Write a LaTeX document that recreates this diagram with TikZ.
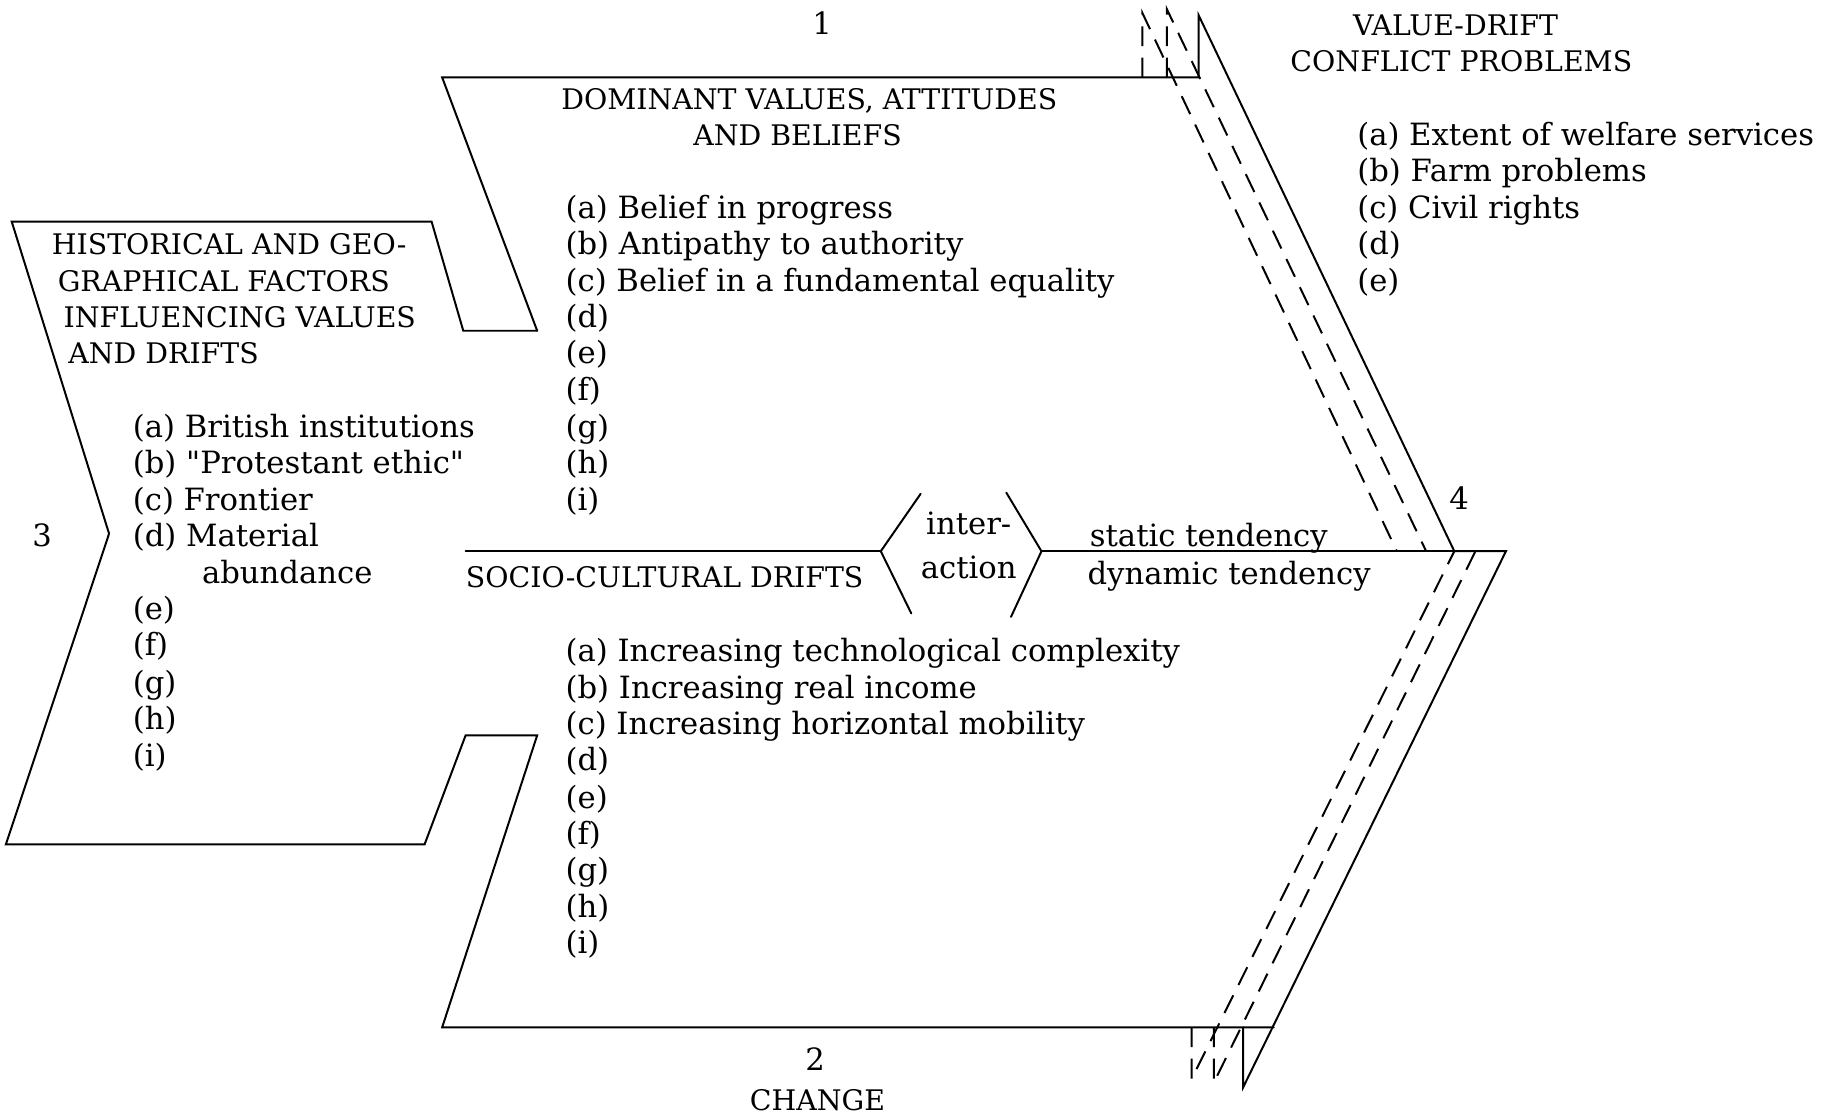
\documentclass[tikz,border=0pt]{standalone}
\usepackage{fontspec}
\setmainfont{DejaVu Serif}[Ligatures=TeXOff]
\usetikzlibrary{arrows.meta,positioning,calc}

\begin{document}
\begin{tikzpicture}[x=0.025cm, y=-0.025cm, >=Stealth,
	word/.style={draw=none, inner sep=0pt, anchor=west, text height=15pt, text depth=2pt, font=\fontsize{18.6}{22}\selectfont},
	cword/.style={word, anchor=center},
	head/.style={word, font=\fontsize{17.2}{22}\selectfont},
	chead/.style={head, anchor=center},
	frame/.style={line width=1.2pt, line join=miter, line cap=round},
	feedback/.style={line width=1.2pt, dash pattern=on 12pt off 7pt},
	bracket/.style={line width=1.2pt, line cap=round}
	]
	\useasboundingbox (0,0) rectangle (1568,953);

	% corners of the frame
	\coordinate (one) at (1022,13);
	\coordinate (four) at (1240,470);
	\coordinate (fourout) at (1284,470);
	\coordinate (two) at (1060,927);
	\coordinate (three) at (93,455);
	\coordinate (ileft) at (751,470);
	\coordinate (iright) at (888,470);

	\draw [frame] (458,282) -- (377,66) -- (1022,66) -- (one) -- (four) -- (fourout) -- (two) -- (1060,876);
	\draw [frame] (1086,876) -- (377,876) -- (458,627) -- (397,627) -- (362,720) -- (5,720) -- (three) -- (10,189) -- (368,189) -- (395,282) -- (458,282);
	\draw [frame] (397,470) -- (ileft);
	\draw [frame] (iright) -- (fourout);
	\draw [bracket] (785,421) -- (ileft) -- (777,523);
	\draw [bracket] (858,420) -- (iright) -- (862,526);

	\draw [feedback] (974,66) -- (974,11) -- (1191,470);
	\draw [feedback] (995,66) -- (995,8) -- (1216,470);
	\draw [feedback] (1016,876) -- (1016,920) -- (four);
	\draw [feedback] (1035,876) -- (1035,923) -- (1258,470);

	\node[cword](n1) at (701,20) {1};
	\node[cword](n2) at (695,904) {2};
	\node[cword](n3) at (36,457) {3};
	\node[cword](n4) at (1244,425) {4};

	\node[chead](vdrift) at (1241,21) {VALUE-DRIFT};
	\node[chead](vdrift2) at (1246,52) {CONFLICT PROBLEMS};
	\node[word](pa) at (1157,115) {(a) Extent of welfare services};
	\node[word](pb) at (1157,146) {(b) Farm problems};
	\node[word](pc) at (1157,177) {(c) Civil rights};
	\node[word](pd) at (1157,208) {(d)};
	\node[word](pe) at (1157,239) {(e)};

	\node[chead](dom) at (690,84) {DOMINANT VALUES, ATTITUDES};
	\node[chead](dom2) at (680,115) {AND BELIEFS};
	\node[word](va) at (482,177) {(a) Belief in progress};
	\node[word](vb) at (482,208) {(b) Antipathy to authority};
	\node[word](vc) at (482,239) {(c) Belief in a fundamental equality};
	\node[word](vd) at (482,270) {(d)};
	\node[word](ve) at (482,301) {(e)};
	\node[word](vf) at (482,332) {(f)};
	\node[word](vg) at (482,364) {(g)};
	\node[word](vh) at (482,395) {(h)};
	\node[word](vi) at (482,426) {(i)};

	\node[head](hist) at (44,208) {HISTORICAL AND GEO-};
	\node[head](hist2) at (49,239) {GRAPHICAL FACTORS};
	\node[head](hist3) at (54,270) {INFLUENCING VALUES};
	\node[head](hist4) at (58,301) {AND DRIFTS};
	\node[word](ha) at (113,364) {(a) British institutions};
	\node[word](hb) at (113,395) {(b) "Protestant ethic"};
	\node[word](hc) at (113,426) {(c) Frontier};
	\node[word](hd) at (113,457) {(d) Material};
	\node[word](hd2) at (172,488) {abundance};
	\node[word](he) at (113,519) {(e)};
	\node[word](hf) at (113,550) {(f)};
	\node[word](hg) at (113,582) {(g)};
	\node[word](hh) at (113,613) {(h)};
	\node[word](hi) at (113,644) {(i)};

	\node[cword](inter) at (826,447) {inter-};
	\node[cword](action) at (826,484) {action};
	\node[word](static) at (929,457) {static tendency};
	\node[word](dynamic) at (927,489) {dynamic tendency};

	\node[head](socio) at (397,492) {SOCIO-CULTURAL DRIFTS};
	\node[word](da) at (482,555) {(a) Increasing technological complexity};
	\node[word](db) at (482,586) {(b) Increasing real income};
	\node[word](dc) at (482,617) {(c) Increasing horizontal mobility};
	\node[word](dd) at (482,648) {(d)};
	\node[word](de) at (482,680) {(e)};
	\node[word](df) at (482,711) {(f)};
	\node[word](dg) at (482,742) {(g)};
	\node[word](dh) at (482,773) {(h)};
	\node[word](di) at (482,804) {(i)};

	\node[chead](change) at (697,938) {CHANGE};
\end{tikzpicture}
\end{document}
